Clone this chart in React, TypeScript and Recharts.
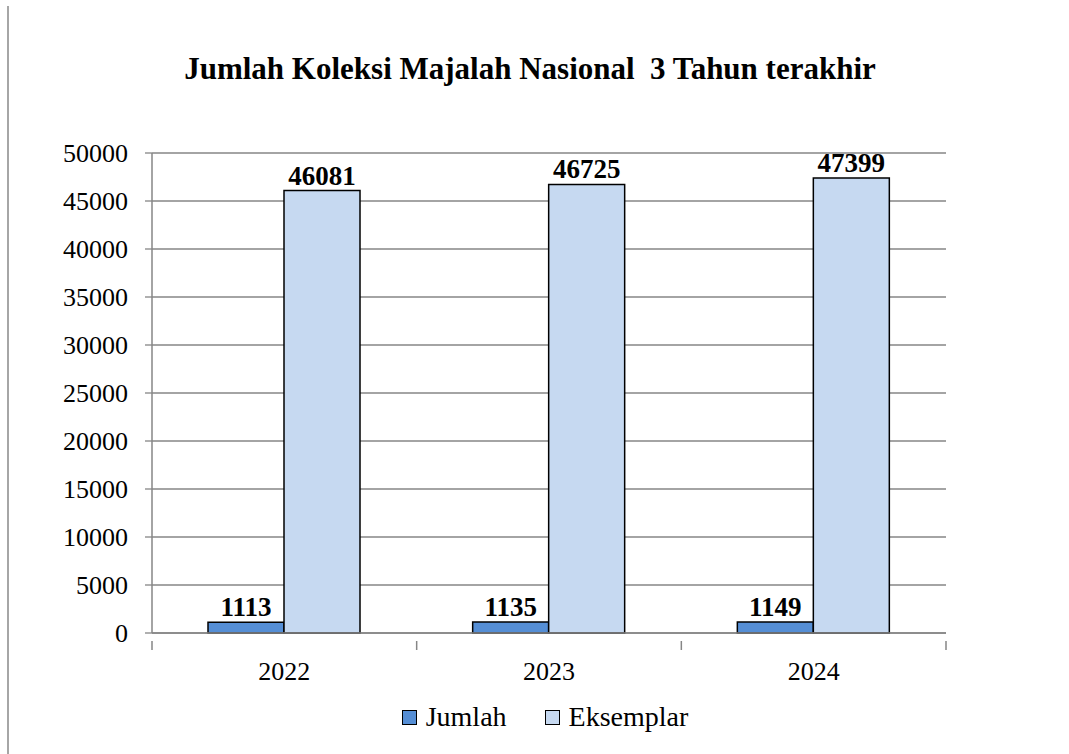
import { Bar, BarChart, CartesianGrid, LabelList, Legend, XAxis, YAxis } from "recharts";

const years = ["2022", "2023", "2024"];
const jumlah = [1113, 1135, 1149];
const eksemplar = [46081, 46725, 47399];
const yTicks = [0, 5000, 10000, 15000, 20000, 25000, 30000, 35000, 40000, 45000, 50000];
const seriesOrder = ["Jumlah", "Eksemplar"];

const data = years.map((year, i) => ({ year, jumlah: jumlah[i], eksemplar: eksemplar[i] }));

const W = 1069;
const H = 754;
const PLOT_LEFT = 152;
const PLOT_RIGHT = 946;
const BAND = (PLOT_RIGHT - PLOT_LEFT) / years.length;
const FONT = "Liberation Serif, Times New Roman, serif";
const AXIS = "#868686";

function XTick(props: any) {
  const { x, y, payload } = props;
  const half = BAND / 2;
  return (
    <g>
      {payload.index === 0 && <line x1={x - half} x2={x - half} y1={y} y2={y + 9} stroke={AXIS} strokeWidth={1.5} />}
      <line x1={x + half} x2={x + half} y1={y} y2={y + 9} stroke={AXIS} strokeWidth={1.5} />
      <text x={x} y={y + 39} textAnchor="middle" fontSize={26} fontFamily={FONT} fill="#000">
        {payload.value}
      </text>
    </g>
  );
}

function LegendContent(props: any) {
  const items = [...(props.payload || [])].sort(
    (a: any, b: any) => seriesOrder.indexOf(a.value) - seriesOrder.indexOf(b.value)
  );
  return (
    <div style={{ display: "flex", justifyContent: "center", gap: 38, fontFamily: FONT, fontSize: 28, lineHeight: "30px" }}>
      {items.map((it: any) => (
        <div key={it.value} style={{ display: "flex", alignItems: "center" }}>
          <span
            style={{
              display: "inline-block",
              width: 13,
              height: 13,
              background: it.color,
              border: "1.5px solid #000",
              marginRight: 9,
            }}
          />
          <span>{it.value}</span>
        </div>
      ))}
    </div>
  );
}

const labelStyle = { fontSize: 27, fontWeight: "bold", fontFamily: FONT, fill: "#000" };

export default function App() {
  return (
    <div style={{ position: "absolute", left: 0, top: 0, width: W, height: H, background: "#fff" }}>
      <div style={{ position: "absolute", left: 7, top: 6, width: 2, height: H - 6, background: "#a6a6a6" }} />
      <div
        style={{
          position: "absolute",
          left: 0,
          width: 1060,
          top: 51,
          textAlign: "center",
          fontFamily: FONT,
          fontWeight: "bold",
          fontSize: 31,
          whiteSpace: "pre",
        }}
      >
        Jumlah Koleksi Majalah Nasional  3 Tahun terakhir
      </div>
      <BarChart
        width={W}
        height={H}
        data={data}
        barSize={76}
        barGap={0}
        margin={{ top: 153, right: W - PLOT_RIGHT, bottom: 81, left: PLOT_LEFT - 100 }}
      >
        <CartesianGrid vertical={false} stroke={AXIS} strokeWidth={1.3} />
        <XAxis dataKey="year" height={40} axisLine={{ stroke: AXIS, strokeWidth: 1.5 }} tickLine={false} tick={<XTick />} interval={0} />
        <YAxis
          width={100}
          domain={[0, 50000]}
          ticks={yTicks}
          interval={0}
          tickSize={7}
          tickMargin={17}
          axisLine={{ stroke: AXIS, strokeWidth: 1.5 }}
          tickLine={{ stroke: AXIS, strokeWidth: 1.3 }}
          tick={{ fontSize: 26, fontFamily: FONT, fill: "#000" }}
        />
        <Legend
          verticalAlign="middle"
          align="center"
          wrapperStyle={{ top: 702, left: 0, width: 1090 }}
          content={<LegendContent />}
        />
        <Bar dataKey="jumlah" name="Jumlah" fill="#558ed5" stroke="#000" strokeWidth={1.5} isAnimationActive={false}>
          <LabelList dataKey="jumlah" position="top" offset={6} style={labelStyle} />
        </Bar>
        <Bar dataKey="eksemplar" name="Eksemplar" fill="#c6d9f1" stroke="#000" strokeWidth={1.5} isAnimationActive={false}>
          <LabelList dataKey="eksemplar" position="top" offset={6} style={labelStyle} />
        </Bar>
      </BarChart>
    </div>
  );
}
